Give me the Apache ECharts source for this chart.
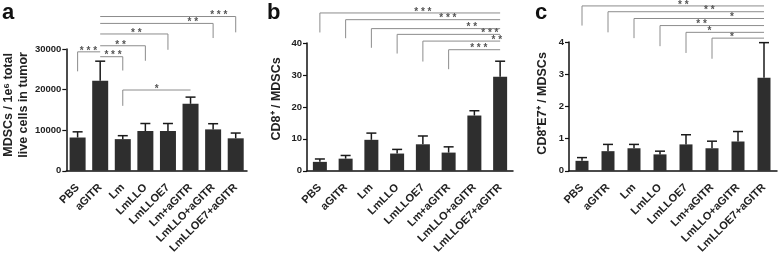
<!DOCTYPE html>
<html>
<head>
<meta charset="utf-8">
<script src="https://cdn.jsdelivr.net/npm/echarts@6/dist/echarts.min.js"></script>
<style>
  html, body { margin: 0; padding: 0; background: #fff; }
  #chart { width: 778px; height: 256px; }
</style>
</head>
<body>
<div id="chart"></div>
<script>
// groups, same for all three panels
var categories = ['PBS', 'aGITR', 'Lm', 'LmLLO', 'LmLLOE7', 'Lm+aGITR', 'LmLLO+aGITR', 'LmLLOE7+aGITR'];

// panel a: MDSCs per 1e6 live cells
var mdscMean = [8200, 22200, 7800, 9800, 9800, 16500, 10200, 8000];
var mdscErr = [1400, 4800, 850, 1850, 1850, 1650, 1400, 1300];
var mdscTicks = [0, 10000, 20000, 30000];

// panel b: CD8+ / MDSCs
var cd8Mean = [2.8, 3.8, 9.7, 5.4, 8.3, 5.7, 17.3, 29.4];
var cd8Err = [0.9, 1.0, 2.1, 1.3, 2.6, 1.8, 1.5, 4.9];
var cd8Ticks = [0, 10, 20, 30, 40];

// panel c: CD8+E7+ / MDSCs
var e7Mean = [0.31, 0.61, 0.70, 0.51, 0.82, 0.70, 0.91, 2.89];
var e7Err = [0.10, 0.21, 0.12, 0.10, 0.30, 0.22, 0.31, 1.09];
var e7Ticks = [0, 1, 2, 3, 4];

// significance brackets: [leg group, reference group, line level, leg end, stars at (group index), stars]
var bracketsA = [
  [0, 1, 29300, 24500, 0.48, '***'],
  [2, 1, 28100, 24700, 1.57, '***'],
  [3, 1, 30800, 27100, 1.9, '**'],
  [4, 1, 33700, 29800, 2.6, '**'],
  [6, 1, 36300, 32700, 5.1, '**'],
  [7, 1, 38000, 34100, 6.25, '***'],
  [2, 5, 19900, 16000, 3.5, '*']
];
var bracketsB = [
  [0, 7, 49.4, 43.3, 4.0, '***'],
  [1, 7, 47.3, 41.5, 4.97, '***'],
  [2, 7, 44.5, 38.5, 5.9, '**'],
  [3, 7, 42.7, 36.7, 6.6, '***'],
  [4, 7, 40.6, 34.2, 6.87, '**'],
  [5, 7, 37.9, 31.8, 6.17, '***']
];
var bracketsC = [
  [0, 7, 5.12, 4.51, 3.9, '**'],
  [1, 7, 4.94, 4.30, 4.9, '**'],
  [2, 7, 4.73, 4.12, 5.77, '*'],
  [3, 7, 4.51, 3.87, 4.6, '**'],
  [4, 7, 4.30, 3.66, 4.9, '*'],
  [5, 7, 4.12, 3.48, 5.77, '*']
];

var FONT = 'Liberation Sans, Arial, Helvetica, sans-serif';
var BAR = '#2e2e2e';

function xAxisFor(idx) {
  return {
    type: 'category', gridIndex: idx, data: categories,
    axisLine: { lineStyle: { color: '#111', width: 1.5 } },
    axisTick: { alignWithLabel: true, length: 5, lineStyle: { color: '#111', width: 1.2 } },
    axisLabel: { rotate: 45, interval: 0, margin: 15, color: '#222', fontWeight: 'bold', fontSize: 11, fontFamily: FONT }
  };
}

// shift moves the title up along the axis (via left padding of the rotated text)
function yAxisFor(idx, ticks, name, gap, shift) {
  return {
    type: 'value', gridIndex: idx,
    min: ticks[0], max: ticks[ticks.length - 1], interval: ticks[1] - ticks[0],
    name: name, nameLocation: 'middle', nameRotate: 90, nameGap: gap,
    nameTextStyle: {
      color: '#222', fontWeight: 'bold', fontSize: 12.5, fontFamily: FONT, lineHeight: 15,
      padding: [0, 0, 0, shift * 2]
    },
    axisLine: { show: true, lineStyle: { color: '#111', width: 1.5 } },
    axisTick: { show: true, length: 4, lineStyle: { color: '#111', width: 1.2 } },
    axisLabel: {
      color: '#222', fontWeight: 'bold', fontSize: 9.5, fontFamily: FONT, margin: 5,
      formatter: function (v) { return String(v); }
    },
    splitLine: { show: false }
  };
}

function barSeries(idx, mean, width) {
  return {
    type: 'bar', xAxisIndex: idx, yAxisIndex: idx, data: mean,
    barWidth: width, itemStyle: { color: BAR }, silent: true
  };
}

// upper error bar with a cap
function errSeries(idx, mean, err) {
  return {
    type: 'custom', xAxisIndex: idx, yAxisIndex: idx, silent: true, z: 3,
    encode: { x: 0, y: 1 },
    data: mean.map(function (m, i) { return [i, m, err[i]]; }),
    renderItem: function (params, api) {
      var i = api.value(0), m = api.value(1), e = api.value(2);
      var p0 = api.coord([i, m]);
      var p1 = api.coord([i, m + e]);
      var st = { stroke: '#1a1a1a', lineWidth: 1.5 };
      return {
        type: 'group',
        children: [
          { type: 'line', shape: { x1: p0[0], y1: p0[1], x2: p1[0], y2: p1[1] }, style: st },
          { type: 'line', shape: { x1: p1[0] - 5, y1: p1[1], x2: p1[0] + 5, y2: p1[1] }, style: st }
        ]
      };
    }
  };
}

// significance brackets drawn in data units, above the plotting area
function bracketSeries(idx, brackets) {
  return {
    type: 'custom', xAxisIndex: idx, yAxisIndex: idx, silent: true, clip: false, z: 4,
    encode: { x: 0, y: 1 },
    data: brackets.map(function (b) { return [b[0], b[2]]; }),
    renderItem: function (params, api) {
      var b = brackets[params.dataIndex];
      var pLeg = api.coord([b[0], b[2]]);
      var pRef = api.coord([b[1], b[2]]);
      var pEnd = api.coord([b[0], b[3]]);
      var c0 = api.coord([0, b[2]])[0], c1 = api.coord([1, b[2]])[0];
      var sx = c0 + b[4] * (c1 - c0);
      var st = { stroke: '#8c8c8c', lineWidth: 1 };
      return {
        type: 'group',
        children: [
          { type: 'line', shape: { x1: pLeg[0], y1: pLeg[1], x2: pRef[0], y2: pRef[1] }, style: st },
          { type: 'line', shape: { x1: pLeg[0], y1: pLeg[1], x2: pEnd[0], y2: pEnd[1] }, style: st },
          {
            type: 'text', x: sx, y: pLeg[1] + 4,
            style: { text: b[5].split('').join(' '), fill: '#555', font: 'bold 10px ' + FONT, align: 'center', verticalAlign: 'bottom' }
          }
        ]
      };
    }
  };
}

var chart = echarts.init(document.getElementById('chart'));
var option = {
  animation: false,
  backgroundColor: '#fff',
  grid: [
    { left: 60, top: 49, width: 187, height: 124 },
    { left: 307, top: 43, width: 206, height: 133 },
    { left: 569, top: 42, width: 208, height: 131 }
  ],
  xAxis: [xAxisFor(0), xAxisFor(1), xAxisFor(2)],
  yAxis: [
    yAxisFor(0, mdscTicks, 'MDSCs / 1e\u2076 total\nlive cells in tumor', 27, 5),
    yAxisFor(1, cd8Ticks, 'CD8\u207A / MDSCs', 23, 8),
    yAxisFor(2, e7Ticks, 'CD8\u207AE7\u207A / MDSCs', 19, 3)
  ],
  graphic: [
    { type: 'text', left: 2, top: 2, style: { text: 'a', font: 'bold 22px ' + FONT, fill: '#111' } },
    { type: 'text', left: 267, top: 2, style: { text: 'b', font: 'bold 22px ' + FONT, fill: '#111' } },
    { type: 'text', left: 535, top: 2, style: { text: 'c', font: 'bold 22px ' + FONT, fill: '#111' } }
  ],
  series: [
    barSeries(0, mdscMean, 16), errSeries(0, mdscMean, mdscErr), bracketSeries(0, bracketsA),
    barSeries(1, cd8Mean, 14), errSeries(1, cd8Mean, cd8Err), bracketSeries(1, bracketsB),
    barSeries(2, e7Mean, 13), errSeries(2, e7Mean, e7Err), bracketSeries(2, bracketsC)
  ]
};
chart.setOption(option);
</script>
</body>
</html>
